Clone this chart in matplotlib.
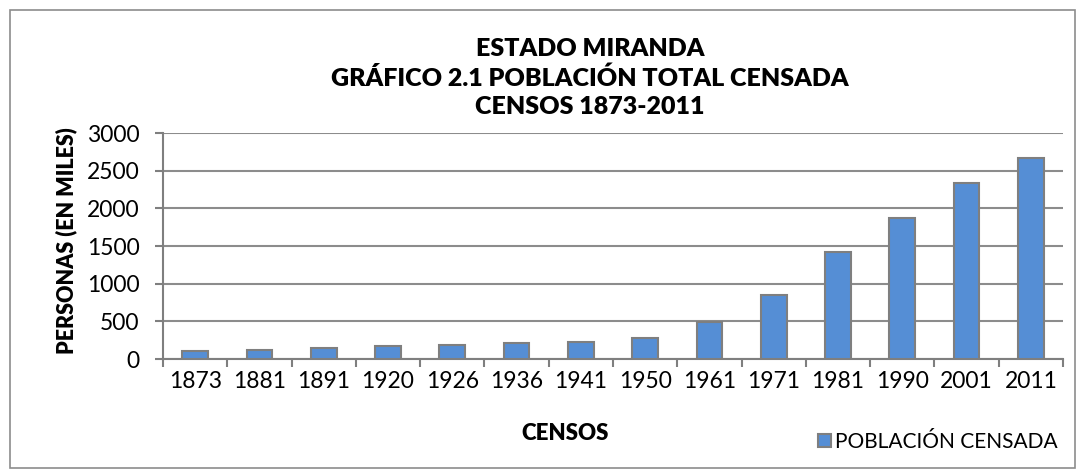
import numpy as np
import matplotlib
matplotlib.use("Agg")
import matplotlib.pyplot as plt
from matplotlib.patches import Rectangle

censos = ["1873", "1881", "1891", "1920", "1926", "1936", "1941",
          "1950", "1961", "1971", "1981", "1990", "2001", "2011"]
poblacion = [106, 124, 142, 172, 188, 216, 228,
             276, 492, 856, 1421, 1871, 2331, 2665]
yticks = [0, 500, 1000, 1500, 2000, 2500, 3000]

plt.rcParams['font.family'] = ['Lato', 'DejaVu Sans']

fig = plt.figure(figsize=(10.85, 4.70), dpi=100)
ax = fig.add_axes([163 / 1085, 1 - 359 / 470, 900 / 1085, 226 / 470])

x = np.arange(len(censos))
ax.bar(x, poblacion, width=0.4, color="#558ED5", edgecolor="#7F7F7F",
       linewidth=1.5, zorder=3, label="POBLACIÓN CENSADA")

ax.set_xlim(-0.5, len(censos) - 0.5)
ax.set_ylim(0, 3000)
ax.set_yticks(yticks)
ax.set_yticklabels([str(v) for v in yticks], fontsize=16.5)
ax.set_xticks(x)
ax.set_xticklabels(censos, fontsize=16.5)
ax.tick_params(axis="x", length=0, pad=9)
ax.set_xticks(np.arange(-0.5, len(censos)), minor=True)
ax.tick_params(axis="x", which="minor", length=6, width=1.5, color="#7F7F7F")
ax.tick_params(axis="y", length=6, width=1.5, color="#7F7F7F", pad=11)

ax.grid(axis="y", color="#8C8C8C", linewidth=1.5, zorder=0)
for s in ["top", "right"]:
    ax.spines[s].set_visible(False)
for s in ["left", "bottom"]:
    ax.spines[s].set_color("#7F7F7F")
    ax.spines[s].set_linewidth(1.5)

fig.text(590 / 1085, 1 - 78 / 470,
         "ESTADO MIRANDA\nGRÁFICO 2.1 POBLACIÓN TOTAL CENSADA\nCENSOS 1873-2011",
         ha="center", va="center", fontsize=18, fontweight="heavy",
         linespacing=1.35)
fig.text(66 / 1085, 1 - 241 / 470, "PERSONAS (EN MILES)", rotation=90,
         ha="center", va="center", fontsize=15.5, fontweight="heavy")
fig.text(565 / 1085, 1 - 433 / 470, "CENSOS", ha="center", va="center",
         fontsize=16, fontweight="heavy")

ax.legend(loc="center", bbox_to_anchor=(938 / 1085, 1 - 442 / 470),
          bbox_transform=fig.transFigure, frameon=False, fontsize=15,
          handlelength=0.6, handleheight=0.6, handletextpad=0.2)

fig.patches.append(Rectangle((10 / 1085, 0.005), 1065 / 1085, 1 - 10 / 470 - 0.005,
                             transform=fig.transFigure, fill=False,
                             edgecolor="#8C8C8C", linewidth=1.2))

fig.savefig("out.png", dpi=100, facecolor="white")
